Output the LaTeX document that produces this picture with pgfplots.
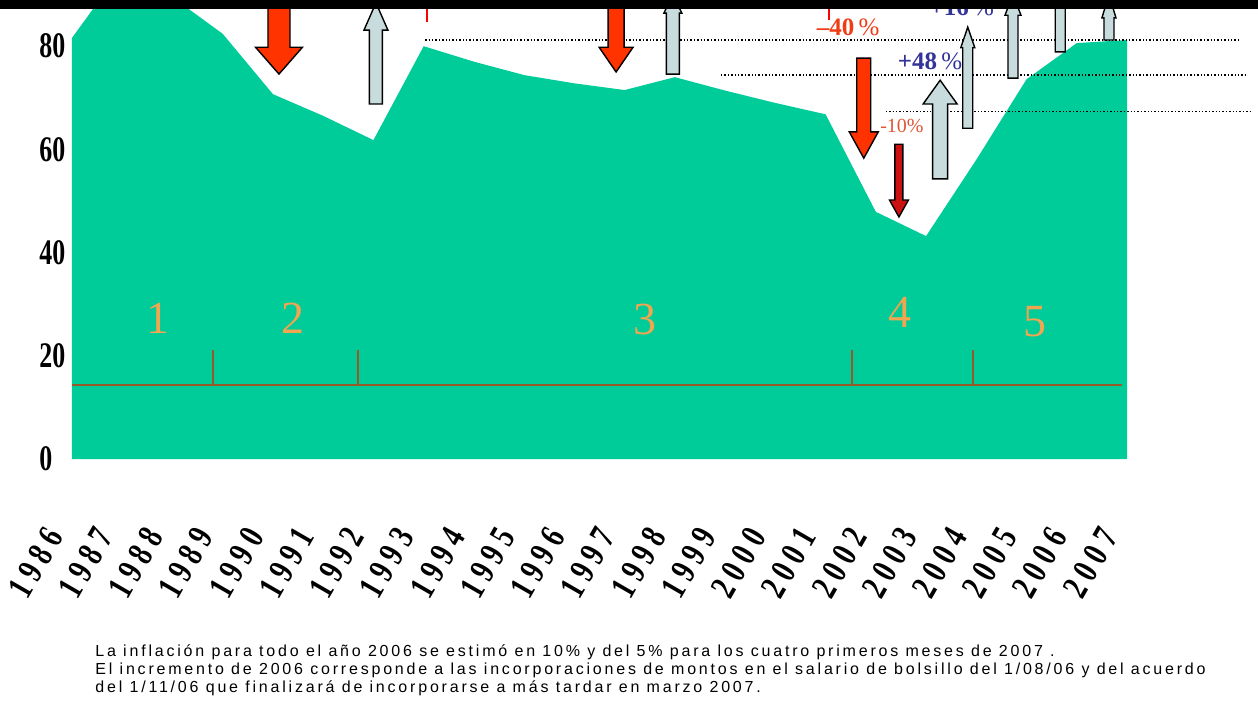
\documentclass[border=0pt]{standalone}
\usepackage{fontspec}
\usepackage{pgfplots}
\pgfplotsset{compat=1.18}
\setmainfont{Liberation Serif}
\newfontfamily\tickfont[FakeStretch=0.72]{Liberation Serif}
\newfontfamily\yearfont[FakeStretch=0.75,LetterSpace=18]{Liberation Serif}
\newfontfamily\notefont[LetterSpace=17.5]{Liberation Sans}
\newfontfamily\numfont{Liberation Serif}
\definecolor{areagreen}{RGB}{0,204,153}
\definecolor{redarrow}{RGB}{255,51,0}
\definecolor{darkred}{RGB}{204,17,17}
\definecolor{bluearrow}{RGB}{200,220,222}
\definecolor{pctblue}{RGB}{51,51,153}
\definecolor{pctred}{RGB}{240,60,20}
\definecolor{lightred}{RGB}{224,85,53}
\definecolor{numorange}{RGB}{240,165,80}
\definecolor{brownline}{RGB}{150,90,40}
% #1 style, #2 X, #3 tail Y, #4 head base Y, #5 tip Y, #6 shaft half width, #7 head half width
\newcommand{\vArrow}[7]{%
  \draw[#1] ([xshift=-#6]axis cs:#2,#3) -- ([xshift=-#6]axis cs:#2,#4) -- ([xshift=-#7]axis cs:#2,#4) -- (axis cs:#2,#5) -- ([xshift=#7]axis cs:#2,#4) -- ([xshift=#6]axis cs:#2,#4) -- ([xshift=#6]axis cs:#2,#3) -- cycle;}
\begin{document}
\begin{tikzpicture}
\begin{axis}[
  at={(0,0)}, anchor=north west,
  scale only axis, width=629pt, height=229.5pt,
  xmin=1984.567, xmax=2009.607, ymin=0, ymax=88.95,
  axis line style={draw=none}, major tick length=0pt,
  xtick={1986,...,2007},
  xticklabels={1986,1987,1988,1989,1990,1991,1992,1993,1994,1995,1996,1997,1998,1999,2000,2001,2002,2003,2004,2005,2006,2007},
  xticklabel style={font=\yearfont\bfseries\fontsize{18}{18}\selectfont, anchor=east, inner sep=0pt, yshift=-36pt, xshift=-9pt, rotate=60},
  ytick={0,20,40,60,80},
  yticklabels={0,20,40,60,80},
  yticklabel style={font=\tickfont\bfseries\fontsize{18}{18}\selectfont, anchor=west, inner sep=0pt, xshift=19.5pt},
  clip=true,
]
\coordinate (TL) at (rel axis cs:0,1);
% area
\addplot[fill=areagreen, draw=none] coordinates {
 (1986,81.6) (1987,95) (1988,89.5) (1989,82.4) (1990,70.7) (1991,66.5) (1992,61.8)
 (1993,80.0) (1994,77.0) (1995,74.4) (1996,72.8) (1997,71.5) (1998,74.0) (1999,71.4)
 (2000,69.0) (2001,66.8) (2002,47.9) (2003,43.2) (2004,58.0) (2005,73.6) (2006,80.6) (2007,81.2)
} \closedcycle;
% brown period line
\addplot[brownline, line width=1.1pt] coordinates {(1986,14.4) (2006.9,14.4)};
\addplot[brownline, line width=1pt] coordinates {(1988.81,14.4) (1988.81,21.1)};
\addplot[brownline, line width=1pt] coordinates {(1991.69,14.4) (1991.69,21.1)};
\addplot[brownline, line width=1pt] coordinates {(2001.53,14.4) (2001.53,21.1)};
\addplot[brownline, line width=1pt] coordinates {(2003.93,14.4) (2003.93,21.1)};
\node[numorange, font=\numfont\fontsize{23}{23}\selectfont] at (axis cs:1987.71,27.3) {1};
\node[numorange, font=\numfont\fontsize{23}{23}\selectfont] at (axis cs:1990.40,27.3) {2};
\node[numorange, font=\numfont\fontsize{23}{23}\selectfont] at (axis cs:1997.40,27.1) {3};
\node[numorange, font=\numfont\fontsize{23}{23}\selectfont] at (axis cs:2002.48,28.5) {4};
\node[numorange, font=\numfont\fontsize{23}{23}\selectfont] at (axis cs:2005.17,26.7) {5};
% dotted reference lines
\addplot[black, densely dotted, line width=0.7pt] coordinates {(1993.03,81.2) (2009.25,81.2)};
\addplot[black, densely dotted, line width=0.7pt] coordinates {(1998.92,74.4) (2009.35,74.4)};
\addplot[black, densely dotted, line width=0.7pt] coordinates {(2002.20,67.4) (2009.45,67.4)};
% arrows
\vArrow{fill=redarrow, draw=black, line width=0.7pt}{1990.12}{92}{79.8}{74.6}{5.5pt}{11.75pt}
\vArrow{fill=bluearrow, draw=black, line width=0.7pt}{1992.05}{68.8}{83.1}{88.4}{3.25pt}{6pt}
\vArrow{fill=redarrow, draw=black, line width=0.7pt}{1996.83}{92}{79.8}{75.0}{4pt}{8.5pt}
\vArrow{fill=bluearrow, draw=black, line width=0.7pt}{1997.96}{74.6}{86.4}{90}{3.25pt}{4.5pt}
\vArrow{fill=redarrow, draw=black, line width=0.7pt}{2001.76}{77.7}{63.4}{58.3}{3.5pt}{7.25pt}
\vArrow{fill=darkred, draw=black, line width=0.7pt}{2002.46}{61.0}{50.2}{46.9}{2pt}{4.75pt}
\vArrow{fill=bluearrow, draw=black, line width=0.7pt}{2003.28}{54.3}{68.8}{73.4}{3.75pt}{8.5pt}
\vArrow{fill=bluearrow, draw=black, line width=0.7pt}{2003.83}{64.1}{79.7}{83.7}{2.5pt}{3.5pt}
\vArrow{fill=bluearrow, draw=black, line width=0.7pt}{2004.73}{73.8}{86.0}{90}{2.5pt}{4pt}
\vArrow{fill=bluearrow, draw=black, line width=0.7pt}{2005.67}{78.9}{95}{96}{2.5pt}{2.5pt}
\vArrow{fill=bluearrow, draw=black, line width=0.7pt}{2006.64}{81.2}{85.5}{90}{2.5pt}{3.5pt}
\draw[red, line width=0.8pt] (axis cs:1993.07,84.7) -- (axis cs:1993.07,89);
\draw[red, line width=0.8pt] (axis cs:2001.07,85.1) -- (axis cs:2001.07,89);
% percentage labels
\node[pctred, inner sep=0pt, font=\fontsize{12.5}{12.5}\selectfont] at (axis cs:2001.45,83.7) {\textbf{--40}\,\%};
\node[pctblue, inner sep=0pt, font=\fontsize{12.5}{12.5}\selectfont] at (axis cs:2003.71,87.5) {\textbf{+16}\,\%};
\node[pctblue, inner sep=0pt, font=\fontsize{12.5}{12.5}\selectfont] at (axis cs:2003.08,77.1) {\textbf{+48}\,\%};
\node[lightred, inner sep=0pt, font=\fontsize{10}{10}\selectfont] at (axis cs:2002.52,64.5) {-10\%};
% top black band
\fill[black] (axis cs:1984,87.3) rectangle (axis cs:2010,90);
\end{axis}
\node[anchor=base west, inner sep=0pt, font=\notefont\fontsize{8}{9}\selectfont] at ([shift={(47.5pt,-328pt)}]TL) {La inflación para todo el año 2006 se estimó en 10\% y del 5\% para los cuatro primeros meses de 2007 .};
\node[anchor=base west, inner sep=0pt, font=\notefont\fontsize{8}{9}\selectfont] at ([shift={(47.5pt,-337pt)}]TL) {El incremento de 2006 corresponde a las incorporaciones de montos en el salario de bolsillo del 1/08/06 y del acuerdo};
\node[anchor=base west, inner sep=0pt, font=\notefont\fontsize{8}{9}\selectfont] at ([shift={(47.5pt,-346pt)}]TL) {del 1/11/06 que finalizará de incorporarse a más tardar en marzo 2007.};
\pgfresetboundingbox
\path (TL) rectangle ([shift={(629pt,-351.5pt)}]TL);
\end{tikzpicture}
\end{document}
